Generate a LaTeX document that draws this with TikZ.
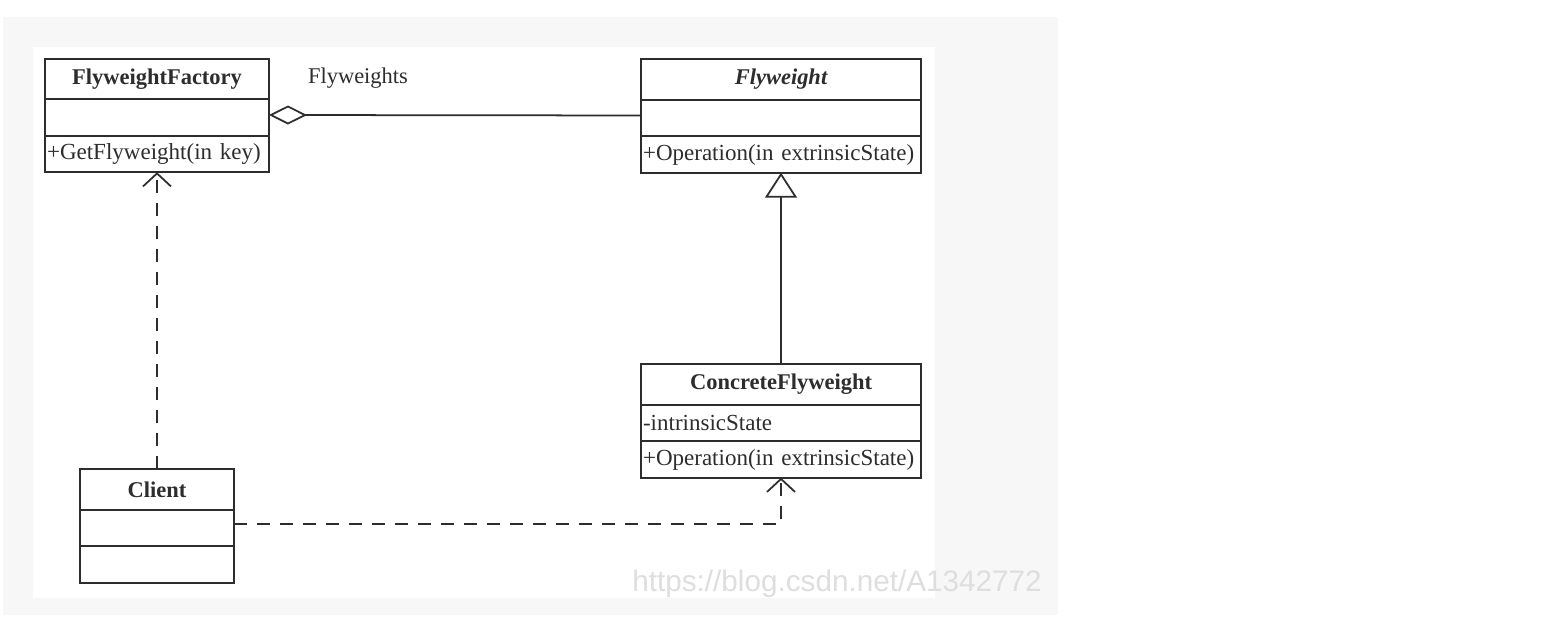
\documentclass[tikz,border=0pt]{standalone}
\usepackage{fontspec}
\setmainfont{Liberation Serif}
\newfontfamily\wmfont{Liberation Sans}
\usetikzlibrary{arrows.meta, positioning}
\definecolor{pagegray}{RGB}{247,247,247}
\definecolor{linegray}{RGB}{45,45,45}
\definecolor{markgray}{RGB}{222,222,222}

\begin{document}
\begin{tikzpicture}[x=0.02cm, y=-0.02cm,
    font=\fontsize{12.8}{15}\selectfont, text=linegray,
    head/.style={draw=linegray, line width=1pt, inner sep=0pt, outer sep=0pt, minimum height=0.81cm, font=\fontsize{12.8}{15}\selectfont\bfseries},
    part/.style={draw=linegray, line width=1pt, inner xsep=0.04cm, inner ysep=0pt, outer sep=0pt, minimum height=0.73cm, text width=#1, align=left, font=\fontsize{13.1}{15}\selectfont},
    aggr/.style={draw=linegray, line width=1pt, {Diamond[open, length=0.76cm, width=0.38cm]}-},
    inherit/.style={draw=linegray, line width=1pt, -{Triangle[open, length=0.5cm, width=0.64cm]}},
    dep/.style={draw=linegray, line width=1pt, dash pattern=on 0.26cm off 0.2cm, -{Straight Barb[length=0.26cm, width=0.56cm]}},
    watermark/.style={text=markgray, font=\wmfont\fontsize{16.9}{20}\selectfont}
]

% Page
\useasboundingbox (0,0) rectangle (1555,617);
\fill[pagegray] (3,17) rectangle (1058,615);
\fill[white] (33,47) rectangle (935,598);

% FlyweightFactory
\node[head, minimum width=4.48cm] (fwfHead) at (157,79) {FlyweightFactory};
\node[part=4.40cm, below=0pt of fwfHead] (fwfAttr) {};
\node[part=4.40cm, below=0pt of fwfAttr] (fwfOps) {+GetFlyweight(in key)};

% Flyweight
\node[head, minimum width=5.6cm] (fwHead) at (781,79.5) {\itshape Flyweight};
\node[part=5.52cm, below=0pt of fwHead] (fwAttr) {};
\node[part=5.52cm, below=0pt of fwAttr] (fwOps) {+Operation(in extrinsicState)};

% ConcreteFlyweight
\node[head, minimum width=5.6cm] (cfHead) at (781,384.5) {ConcreteFlyweight};
\node[part=5.52cm, below=0pt of cfHead] (cfAttr) {-intrinsicState};
\node[part=5.52cm, below=0pt of cfAttr] (cfOps) {+Operation(in extrinsicState)};

% Client
\node[head, minimum width=3.08cm] (clHead) at (157,489.5) {Client};
\node[part=3.00cm, below=0pt of clHead] (clAttr) {};
\node[part=3.00cm, below=0pt of clAttr] (clOps) {};

% Connections
\node (fwLabel) at (358,78) {Flyweights};
\draw[aggr] ([yshift=0.05cm]fwfAttr.east) -- ([yshift=0.05cm]fwAttr.west);
\draw[inherit] (cfHead.north) -- (fwOps.south);
\draw[dep] (clHead.north) -- (fwfOps.south);
\draw[dep] ([yshift=0.08cm]clAttr.east) -| (cfOps.south);

% Watermark
\node[watermark] (wm) at (837,584) {https://blog.csdn.net/A1342772};

\end{tikzpicture}
\end{document}
